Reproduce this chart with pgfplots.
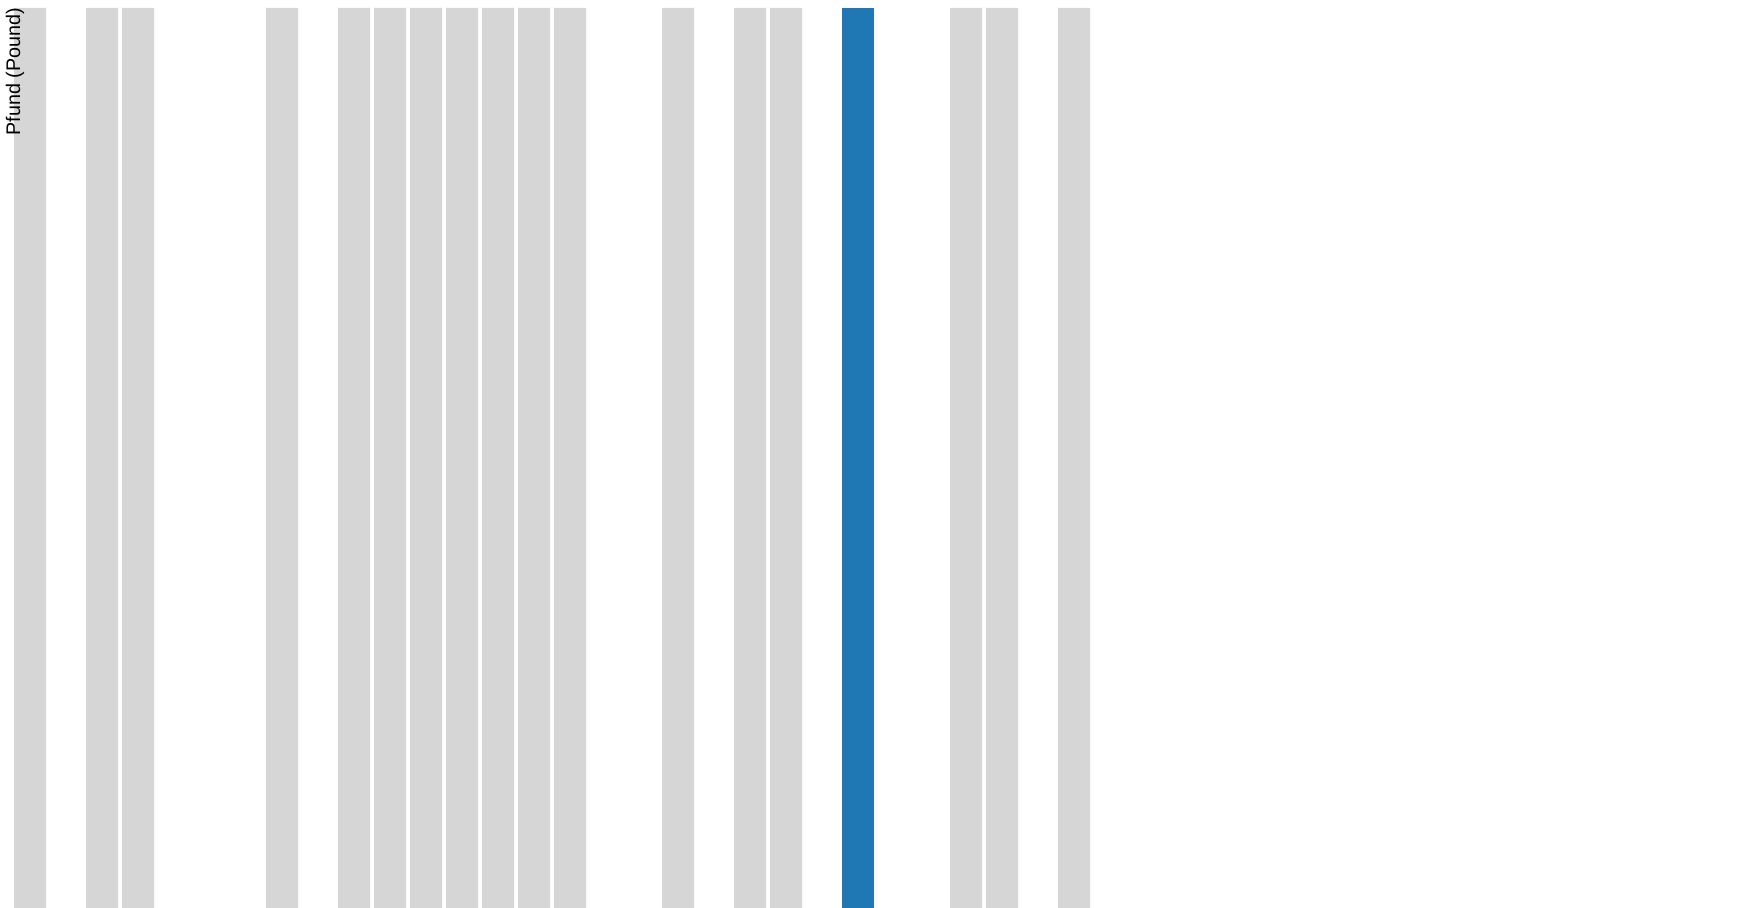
\documentclass[border=0pt]{standalone}
\usepackage{pgfplots}
\pgfplotsset{compat=1.18}
\usepackage{fontspec}
\setmainfont{Liberation Sans}
\definecolor{barGray}{HTML}{D6D6D6}
\definecolor{barBlue}{HTML}{1F77B4}
\begin{document}
\begin{tikzpicture}
\begin{axis}[
  scale only axis,
  width=879pt, height=454pt,
  xmin=-0.83333, xmax=48,
  ymin=0, ymax=1.00889,
  hide axis,
  ybar, bar width=16pt, bar shift=0pt,
  clip=false,
]
\path[use as bounding box] (rel axis cs:0,0) rectangle (rel axis cs:1,1);
\addplot[fill=barGray, draw=none] coordinates {
  (0,1) (2,1) (3,1) (7,1) (9,1) (10,1) (11,1) (12,1) (13,1) (14,1) (15,1)
  (18,1) (20,1) (21,1) (26,1) (27,1) (29,1)
};
\addplot[fill=barBlue, draw=none] coordinates {(23,1)};
\node[rotate=90, anchor=east, inner sep=0pt, font=\fontsize{9.85}{12}\selectfont]
  at (axis cs:-0.4167,1) {Pfund (Pound)};
\end{axis}
\end{tikzpicture}
\end{document}
